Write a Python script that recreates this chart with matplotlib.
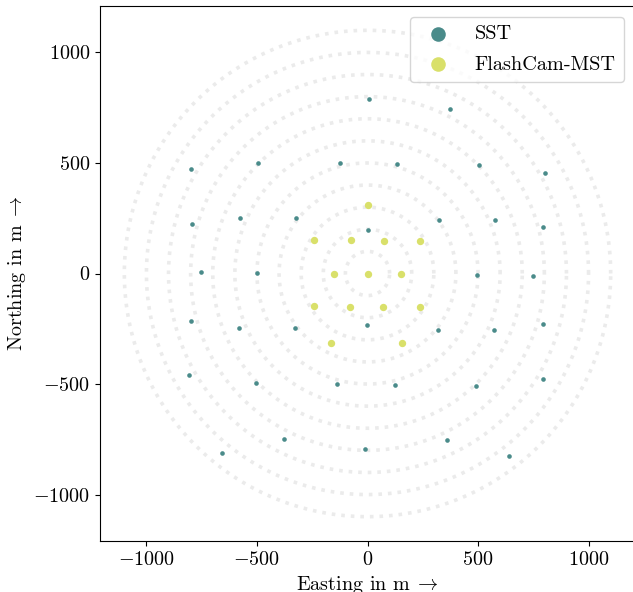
import numpy as np
from matplotlib import pyplot as plt

plt.rcParams["font.family"] = "serif"
plt.rcParams["font.serif"] = ["cmr10"]
plt.rcParams["mathtext.fontset"] = "cm"
plt.rcParams["axes.formatter.use_mathtext"] = True
plt.rcParams["font.size"] = 14.5

# telescope positions in m
sst_x = [5, 373, -800, -495, -126, 134, 503, 805, -796, -576, -324, 1, 324, 576, 796,
         -751, -501, 496, 747, -799, -581, -329, -3, 320, 572, 792, -808, -504, -137,
         124, 492, 796, -656, -377, -10, 358, 638]
sst_y = [788, 742, 471, 501, 498, 495, 492, 456, 225, 252, 250, 197, 243, 242, 210,
         5, 3, -7, -10, -215, -245, -247, -232, -255, -257, -230, -460, -497, -500,
         -503, -507, -476, -812, -747, -793, -753, -825]

mst_x = [1, -240, -76, 75, 239, -153, 0, 150, -243, -79, 72, 237, -167, 157]
mst_y = [311, 151, 150, 148, 147, -1, 0, -2, -149, -150, -152, -153, -313, -316]

ring_radii = [100, 200, 300, 400, 500, 600, 700, 800, 900, 1000, 1100]

fig = plt.figure(figsize=(6.33, 5.92), dpi=100)
ax = fig.add_axes([100 / 633, 51 / 592, 535 / 633, 535 / 592])

phi = np.linspace(0, 2 * np.pi, 720)
for r in ring_radii:
    ax.plot(r * np.cos(phi), r * np.sin(phi), ls=":", lw=2.6, color="#ebebeb", zorder=1)

ax.scatter(sst_x, sst_y, s=11, color="#4a8b8a", linewidths=0, zorder=3, label="SST")
ax.scatter(mst_x, mst_y, s=28, color="#d9e06a", linewidths=0, zorder=3, label="FlashCam-MST")

ax.set_xlim(-1210, 1210)
ax.set_ylim(-1210, 1210)
ax.set_aspect("equal")
ax.set_xticks([-1000, -500, 0, 500, 1000])
ax.set_yticks([-1000, -500, 0, 500, 1000])
ax.set_xlabel(r"Easting in m$\;\rightarrow$")
ax.set_ylabel(r"Northing in m$\;\rightarrow$")

leg = ax.legend(loc="upper right", fontsize=14.6, borderaxespad=0.55, labelspacing=0.6)
for h in leg.legend_handles:
    h.set_sizes([110])

fig.savefig("out.png", dpi=100)
